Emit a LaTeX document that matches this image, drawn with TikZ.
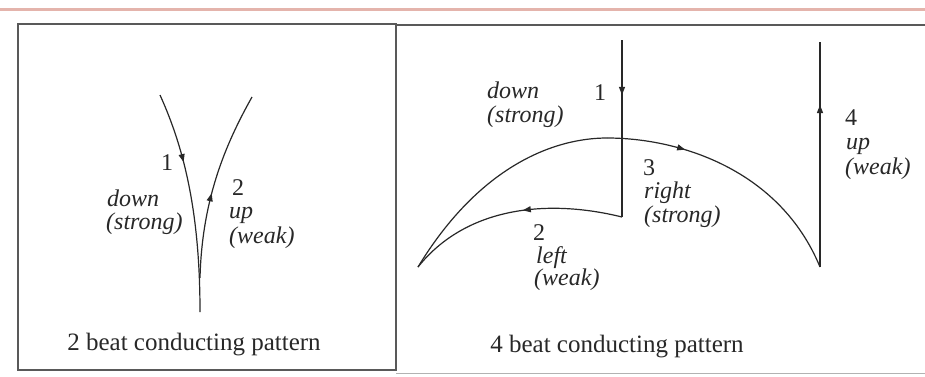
\documentclass[tikz,border=0pt]{standalone}
\usepackage{fontspec}
\setmainfont{Liberation Serif}
\usetikzlibrary{arrows.meta,decorations.markings}
\definecolor{pinkline}{RGB}{228,180,172}
\definecolor{ink}{RGB}{40,40,40}
\begin{document}
\begin{tikzpicture}[x=1pt,y=-1pt,
  stroke/.style={line width=1.2pt, draw=ink},
  frame/.style={line width=1.3pt, draw=black!65},
  midtip/.style={postaction={decorate,decoration={markings,mark=at position #1 with {\arrow{Triangle[length=8pt,width=6pt]}}}}},
  lbl/.style={font=\fontsize{24}{27}\selectfont\itshape, anchor=base west, inner sep=0pt, text=ink},
  num/.style={font=\fontsize{24}{27}\selectfont, anchor=base west, inner sep=0pt, text=ink},
  captext/.style={font=\fontsize{25}{28}\selectfont, anchor=base, inner sep=0pt, text=ink}]
\fill[white] (0,0) rectangle (925,376);
\useasboundingbox (0,0) rectangle (925,376);
% top pink rule
\draw[line width=3pt, pinkline] (0,9) -- (925,9);
% frames
\draw[frame] (18,24) rectangle (396,370);
\draw[frame] (396,25) -- (925,25);
\draw[line width=1pt, draw=black!30] (396,373) -- (925,373);

% ---- 2 beat pattern ----
\coordinate (L1s) at (160,95);
\coordinate (Lb) at (200,312);
\coordinate (Lj) at (200,278);
\coordinate (L2s) at (252,97);
\draw[stroke, midtip=0.32] (L1s) .. controls (185,150) and (200,215) .. (Lb);
\draw[stroke, midtip=0.45] (Lj) .. controls (202,200) and (225,145) .. (L2s);

\node[num] (n1) at (161,170) {1};
\node[lbl] (d1) at (107,206) {down};
\node[lbl] (s1) at (106,229) {(strong)};
\node[num] (n2) at (232,195) {2};
\node[lbl] (u2) at (229,218) {up};
\node[lbl] (w2) at (229,243) {(weak)};
\node[captext] (c1) at (194,350) {2 beat conducting pattern};

% ---- 4 beat pattern ----
\coordinate (A) at (622,40);
\coordinate (B) at (622,217);
\coordinate (C) at (418,267);
\coordinate (T) at (607,138);
\coordinate (D) at (820,267);
\coordinate (E) at (820,42);
\draw[stroke, midtip=0.31] (A) -- (B);
\draw[stroke, midtip=0.45] (B) .. controls (545,198) and (465,208) .. (C);
\draw[stroke] (C) .. controls (480,165) and (555,138) .. (T);
\draw[stroke, midtip=0.3] (T) .. controls (680,138) and (780,170) .. (D);
\draw[stroke, midtip=0.72] (D) -- (E);

\node[lbl] (d4) at (487,98) {down};
\node[lbl] (s4) at (487,122) {(strong)};
\node[num] (m1) at (594,100) {1};
\node[num] (m3) at (643,175) {3};
\node[lbl] (r3) at (644,198) {right};
\node[lbl] (s3) at (644,222) {(strong)};
\node[num] (m2) at (533,240) {2};
\node[lbl] (l2) at (536,263) {left};
\node[lbl] (w4a) at (534,285) {(weak)};
\node[num] (m4) at (845,125) {4};
\node[lbl] (u4) at (846,149) {up};
\node[lbl] (w4) at (845,174) {(weak)};
\node[captext] (c2) at (617,352) {4 beat conducting pattern};
\end{tikzpicture}
\end{document}
